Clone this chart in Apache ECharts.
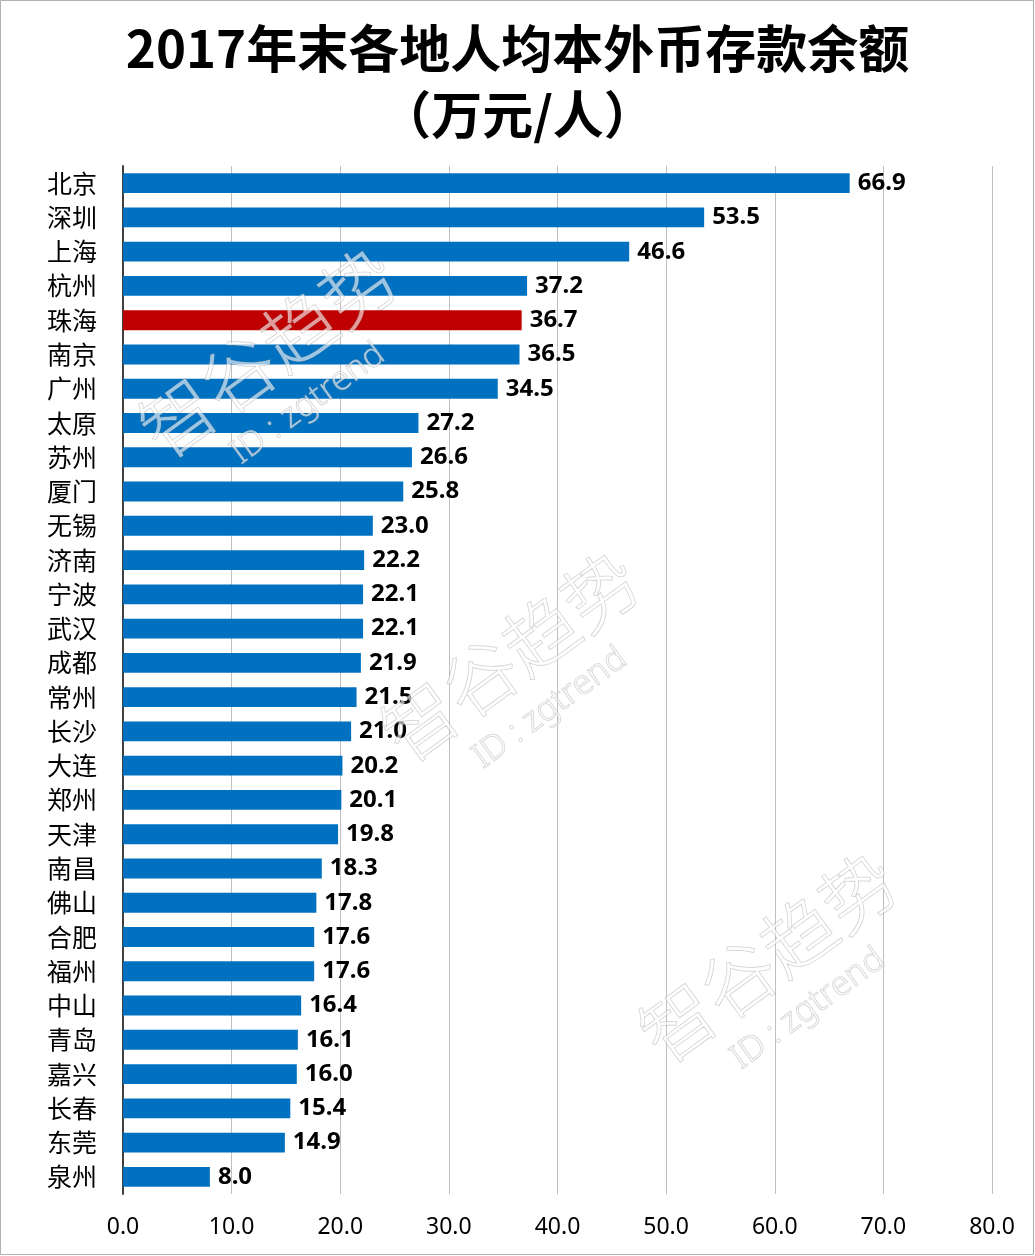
<!DOCTYPE html>
<html>
<head>
<meta charset="utf-8">
<script src="https://cdn.jsdelivr.net/npm/echarts@6/dist/echarts.min.js"></script>
<style>
html,body{margin:0;padding:0;background:#fff;}
#chart{width:1035px;height:1256px;}
</style>
</head>
<body>
<div id="chart"></div>
<script>
var titleText = '2017年末各地人均本外币存款余额\n（万元/人）';
var cities = ['北京','深圳','上海','杭州','珠海','南京','广州','太原','苏州','厦门','无锡','济南','宁波','武汉','成都','常州','长沙','大连','郑州','天津','南昌','佛山','合肥','福州','中山','青岛','嘉兴','长春','东莞','泉州'];
var values = [66.9,53.5,46.6,37.2,36.7,36.5,34.5,27.2,26.6,25.8,23.0,22.2,22.1,22.1,21.9,21.5,21.0,20.2,20.1,19.8,18.3,17.8,17.6,17.6,16.4,16.1,16.0,15.4,14.9,8.0];
var highlightCity = '珠海';
var watermarkMain = '智谷趋势';
var watermarkSub = 'ID : zgtrend';

var BLUE = '#0070C0', RED = '#C00000';
var chart = echarts.init(document.getElementById('chart'));

var barData = values.map(function (v, i) {
  return { value: v, itemStyle: { color: cities[i] === highlightCity ? RED : BLUE } };
});

var ang = 36 * Math.PI / 180;
var wmCenters = [[268, 352], [510, 656], [768, 957]];
var wmEls = [];
wmCenters.forEach(function (c) {
  wmEls.push({
    type: 'text', x: c[0], y: c[1], rotation: ang, z: 100, silent: true,
    style: {
      text: watermarkMain, font: '300 74px "Noto Sans CJK SC"',
      fill: 'rgba(255,255,255,0.6)', stroke: 'rgba(150,150,150,0.5)', lineWidth: 1,
      align: 'center', verticalAlign: 'middle'
    }
  });
  wmEls.push({
    type: 'text', x: c[0] + 40, y: c[1] + 52, rotation: ang, z: 100, silent: true,
    style: {
      text: watermarkSub, font: '300 34px "Noto Sans"',
      fill: 'rgba(255,255,255,0.6)', stroke: 'rgba(150,150,150,0.5)', lineWidth: 1,
      align: 'center', verticalAlign: 'middle'
    }
  });
});
wmEls.push({
  type: 'rect', z: 101, silent: true,
  shape: { x: 0.5, y: 0.5, width: 1033, height: 1254 },
  style: { fill: 'none', stroke: '#b0b0b0', lineWidth: 1 }
});

chart.setOption({
  backgroundColor: '#ffffff',
  animation: false,
  title: {
    text: titleText,
    left: 'center',
    top: 16,
    padding: 0,
    textStyle: {
      fontFamily: '"Noto Sans CJK SC"',
      fontSize: 51,
      fontWeight: 'bold',
      color: '#000',
      lineHeight: 66
    }
  },
  grid: { left: 123, right: 43, top: 166, bottom: 62, containLabel: false },
  xAxis: {
    type: 'value',
    min: 0, max: 80, interval: 10,
    axisLine: { show: false },
    axisTick: { show: false },
    splitLine: { show: true, lineStyle: { color: '#bfbfbf', width: 1 } },
    axisLabel: {
      margin: 22,
      color: '#000',
      fontFamily: '"Noto Sans"',
      fontSize: 23,
      formatter: function (v) { return v.toFixed(1); }
    }
  },
  yAxis: {
    type: 'category',
    data: cities,
    inverse: true,
    axisLine: { show: true, lineStyle: { color: '#404040', width: 2 } },
    axisTick: { show: false },
    axisLabel: {
      margin: 26,
      color: '#000',
      fontFamily: '"Noto Sans CJK SC"',
      fontSize: 25
    }
  },
  series: [{
    type: 'bar',
    data: barData,
    barCategoryGap: '42%',
    label: {
      show: true,
      position: 'right',
      distance: 8,
      color: '#000',
      fontFamily: '"Noto Sans"',
      fontWeight: 'bold',
      fontSize: 24,
      formatter: function (p) { return p.value.toFixed(1); }
    }
  }],
  graphic: wmEls
});
</script>
</body>
</html>
